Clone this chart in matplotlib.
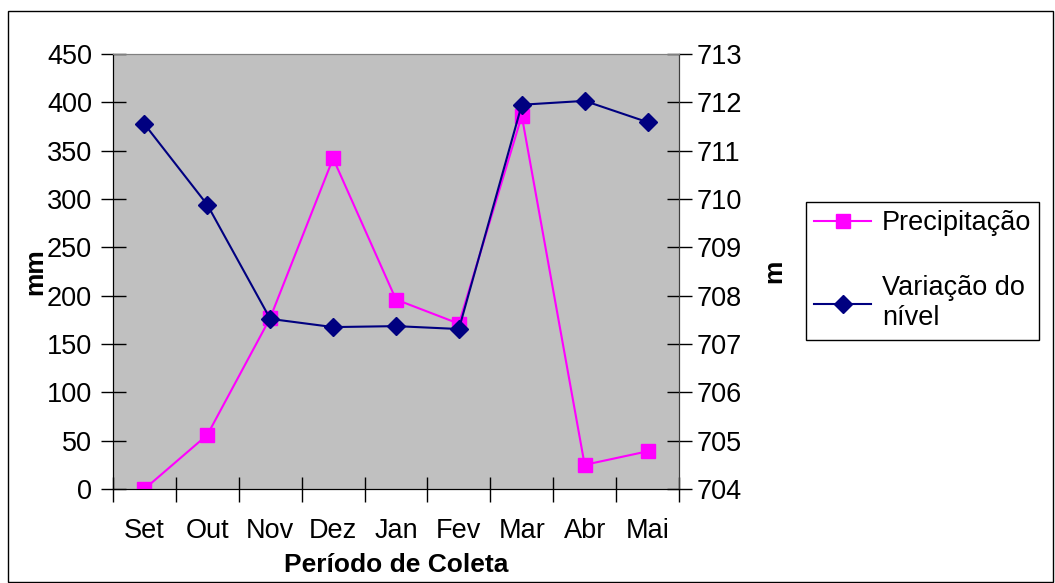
import matplotlib.pyplot as plt
from matplotlib.patches import Rectangle

plt.rcParams["font.family"] = ["Liberation Sans", "DejaVu Sans"]

months = ["Set", "Out", "Nov", "Dez", "Jan", "Fev", "Mar", "Abr", "Mai"]
precip = [0, 56, 177, 342, 196, 171, 386, 25, 39]
nivel = [711.55, 709.88, 707.52, 707.35, 707.37, 707.31, 711.95, 712.03, 711.59]
left_ticks = [0, 50, 100, 150, 200, 250, 300, 350, 400, 450]
right_ticks = [704, 705, 706, 707, 708, 709, 710, 711, 712, 713]

fig = plt.figure(figsize=(10.55, 5.83), dpi=100)
ax = fig.add_axes([0.1071, 0.1612, 0.5365, 0.7462])
ax.set_facecolor("#C0C0C0")
x = list(range(len(months)))

# precipitation on the left axis
l1, = ax.plot(x, precip, color="#FF00FF", lw=1.5, marker="s", ms=10.5,
              markeredgecolor="#FF00FF", zorder=3)
ax.set_xlim(-0.5, len(months) - 0.5)
ax.set_ylim(0, 450)
ax.set_yticks(left_ticks)
ax.set_xticks(x, labels=months)
ax.set_xticks([i - 0.5 for i in range(len(months) + 1)], minor=True)
ax.tick_params(axis="x", which="major", length=0, pad=21, labelsize=19.5)
ax.tick_params(axis="x", which="minor", direction="inout", length=18, width=1)
ax.tick_params(axis="y", direction="inout", length=18, width=1, pad=6, labelsize=19.5)
ax.set_xlabel("Período de Coleta", fontsize=19, fontweight="bold", labelpad=6)
ax.set_ylabel("mm", fontsize=19, fontweight="bold", labelpad=0)

# level on the right axis
ax2 = ax.twinx()
l2, = ax2.plot(x, nivel, color="#000080", lw=1.5, marker="D", ms=9,
               markeredgecolor="#000080", zorder=3)
ax2.set_ylim(704, 713)
ax2.set_yticks(right_ticks)
ax2.tick_params(axis="y", direction="inout", length=18, width=1, pad=4, labelsize=19.5)
ax2.set_ylabel("m", fontsize=19, fontweight="bold", labelpad=14)

for a in (ax, ax2):
    a.spines["top"].set_color("#808080")
    a.spines["left"].set_color("black")
    a.spines["bottom"].set_color("black")
    a.spines["right"].set_color("#404040")

fig.legend([l1, l2], ["Precipitação", "Variação do\nnível"],
           loc="upper left", bbox_to_anchor=(0.764, 0.6535), fontsize=19.5,
           frameon=True, fancybox=False, edgecolor="black", framealpha=1,
           handlelength=2.1, handletextpad=0.4, labelspacing=1.45,
           borderpad=0.3, borderaxespad=0)

# outer chart border
fig.patches.append(Rectangle((8 / 1055, 1 / 583), 1045 / 1055, 571 / 583,
                             transform=fig.transFigure, fill=False,
                             edgecolor="black", lw=1))

plt.savefig("out.png", dpi=100)
